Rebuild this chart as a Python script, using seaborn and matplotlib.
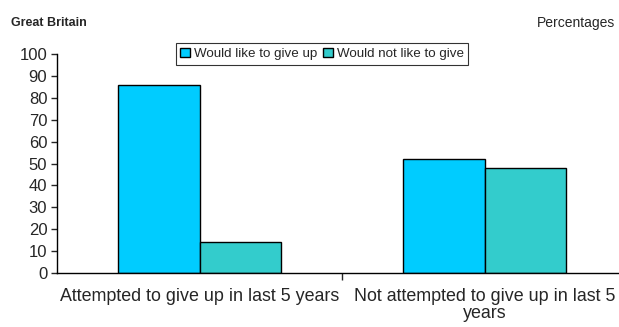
import matplotlib
matplotlib.use('Agg')
from matplotlib import pyplot as plt
from matplotlib.ticker import FixedLocator
import pandas as pd
import seaborn as sns

# Chart data
categories = ['Attempted to give up in last 5 years',
              'Not attempted to give up in last 5\nyears']
series = ['Would like to give up', 'Would not like to give']
would_like = [86, 14]
would_not = [52, 48]

# Long-form table for seaborn: one row per (category, series) pair
df = pd.DataFrame({
    'Category': [categories[0], categories[0], categories[1], categories[1]],
    'Series': [series[0], series[1], series[0], series[1]],
    'Value': [would_like[0], would_like[1], would_not[0], would_not[1]],
})

sns.set_style('white')
plt.rcParams['font.family'] = ['Liberation Sans', 'DejaVu Sans']

fig = plt.figure(figsize=(6.19, 3.27), dpi=100)
# the axes runs a little past the right edge, as in the reference
ax = fig.add_axes([57 / 619, 54 / 327, 570 / 619, 219 / 327])

palette = {series[0]: '#00CCFF', series[1]: '#33CCCC'}
sns.barplot(data=df, x='Category', y='Value', hue='Series', order=categories,
            hue_order=series, palette=palette, width=0.575, gap=0,
            edgecolor='black', linewidth=1, saturation=1, ax=ax, legend=True)

ax.set_xlim(-0.5, 1.5)
ax.set_ylim(0, 100)
ax.set_yticks(range(0, 101, 10))
ax.set_xlabel('')
ax.set_ylabel('')
ax.tick_params(axis='y', labelsize=12, length=4, width=1, direction='out',
               left=True, pad=3)
ax.tick_params(axis='x', which='major', labelsize=12.9, length=0, pad=11)
ax.xaxis.set_minor_locator(FixedLocator([0.5]))
ax.tick_params(axis='x', which='minor', length=5, width=1, direction='out',
               bottom=True)
for lbl in ax.get_xticklabels():
    lbl.set_linespacing(1.0)

for side in ['top', 'right']:
    ax.spines[side].set_visible(False)
for side in ['left', 'bottom']:
    ax.spines[side].set_color('black')
    ax.spines[side].set_linewidth(1)

ax.get_legend().remove()
handles, labels = ax.get_legend_handles_labels()
leg = fig.legend(handles, labels, loc='center', ncol=2,
                 bbox_to_anchor=(322 / 619, 1 - 54 / 327), fontsize=9.6,
                 frameon=True, fancybox=False, edgecolor='black',
                 handlelength=0.7, handleheight=0.7, handletextpad=0.3,
                 columnspacing=0.5, borderpad=0.35, borderaxespad=0)
leg.get_frame().set_linewidth(0.8)

fig.text(11 / 619, 1 - 23 / 327, 'Great Britain', fontsize=9,
         fontweight='bold', va='center', ha='left')
fig.text(615 / 619, 1 - 23 / 327, 'Percentages', fontsize=10,
         va='center', ha='right')

fig.savefig('out.png', dpi=100)
